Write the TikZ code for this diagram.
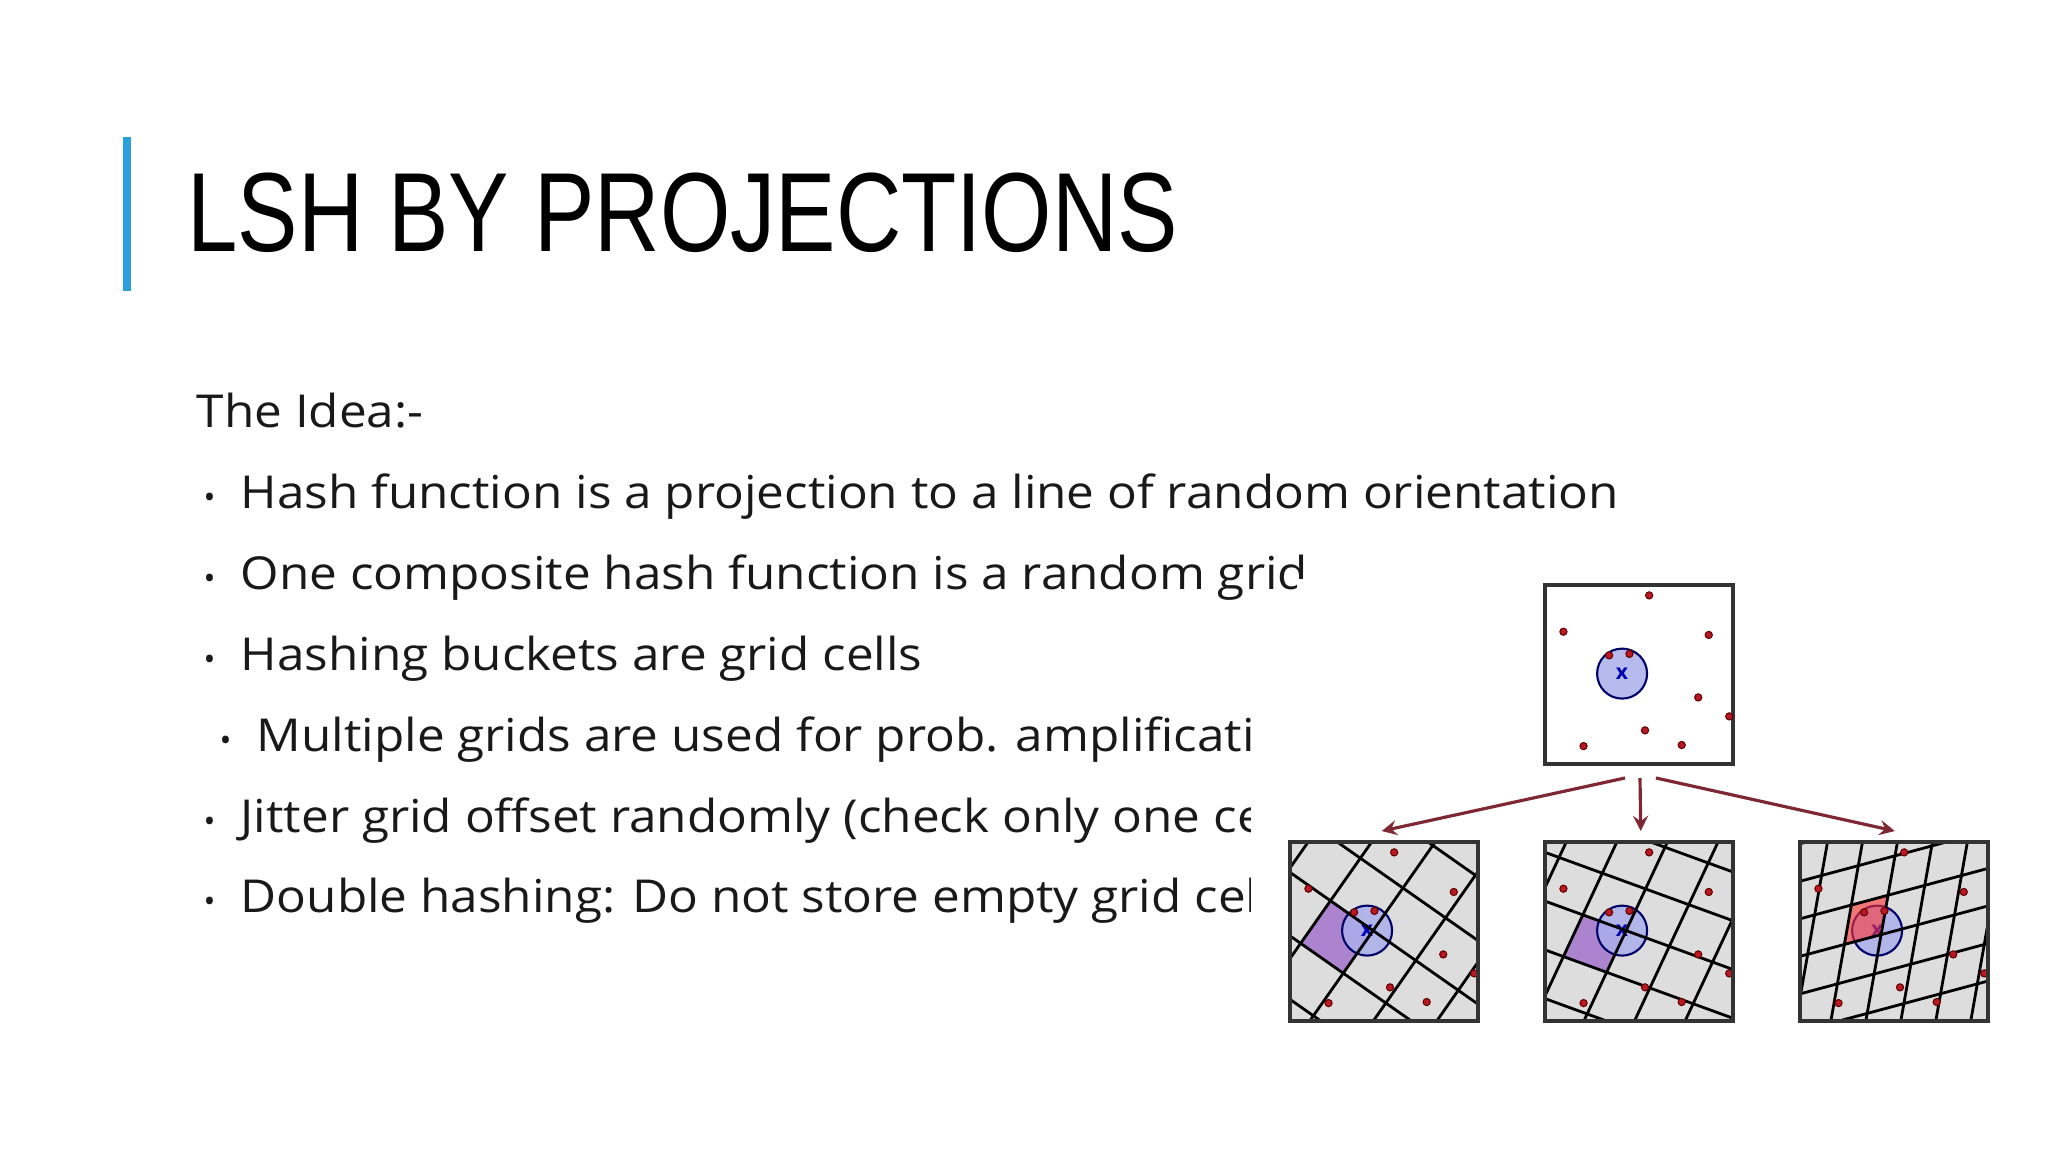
\documentclass[tikz,border=0pt]{standalone}
\usepackage{fontspec}
\setmainfont{Open Sans}
\newfontfamily\titlefont{Liberation Sans}
\usetikzlibrary{calc}
\definecolor{accent}{RGB}{41,160,218}
\definecolor{dotred}{RGB}{185,25,35}
\definecolor{arrred}{RGB}{125,40,50}
\definecolor{circfill}{RGB}{170,175,235}
\definecolor{boxgray}{RGB}{221,221,221}
\definecolor{bodytext}{RGB}{25,25,25}
\tikzset{
  body/.style={anchor=base west, inner sep=0pt, xscale=1.09, font=\fontsize{12.9}{14}\selectfont, text=bodytext},
  bul/.style={anchor=base west, inner sep=0pt, font=\fontsize{9}{10}\selectfont, text=bodytext},
  panel/.style={draw=black!80, line width=0.9pt},
  gridline/.style={line width=0.8pt, black},
  arr/.style={draw=arrred, line width=0.9pt, -stealth},
}
\newcommand\lshpanel[1]{%
  \foreach \fx/\fy in {0.554/0.058,0.098/0.261,0.871/0.279,0.341/0.393,0.449/0.385,0.815/0.628,0.980/0.734,0.532/0.812,0.205/0.900,0.727/0.894}{
    \fill[dotred, draw=black!60!red, line width=0.3pt] ($(#1)+(\fx*188,\fy*179)$) circle (3.6);
  }
}
\newcommand\lshcircle[1]{%
  \fill[circfill, fill opacity=0.85, draw=black!60!blue, line width=0.6pt] ($(#1)+(0.410*188,0.495*179)$) circle (25);
  \node[text=blue!70!black, inner sep=0pt, font=\bfseries\fontsize{6}{6}\selectfont] at ($(#1)+(0.410*188,0.495*179)$) {x};
}
\newcommand\lshgrid[3]{%
  \foreach \i in {-4,...,4}{
    \draw[gridline] ($(#1)+\i*(#3)-3.3*(#2)$) -- ($(#1)+\i*(#3)+3.3*(#2)$);
    \draw[gridline] ($(#1)+\i*(#2)-3.3*(#3)$) -- ($(#1)+\i*(#2)+3.3*(#3)$);
  }
}
\begin{document}
\begin{tikzpicture}[x=0.01cm,y=-0.01cm]
\useasboundingbox (0,0) rectangle (2048,1152);
\fill[white] (0,0) rectangle (2048,1152);
\draw[accent, line width=2.2pt] (127,137) -- (127,291);
\node[anchor=base west, inner sep=0pt, xscale=0.804, font=\titlefont\fontsize{32}{36}\selectfont] (title) at (187,252) {LSH BY PROJECTIONS};
\node[body] (idea) at (196,428) {The Idea:-};
\foreach \n/\x/\y/\t in {
  b1/209/509/{Hash function is a projection to a line of random orientation},
  b2/209/590/{One composite hash function is a random grid},
  b3/209/670/{Hashing buckets are grid cells},
  b4/225/751/{Multiple grids are used for prob. amplification},
  b5/209/832/{Jitter grid offset randomly (check only one cell)},
  b6/209/912/{Double hashing: Do not store empty grid cells}}{
  \node[bul] (\n b) at (\x-6,\y) {\textbullet};
  \node[body] (\n) at (\x+31,\y) {\t};
}
\fill[white] (1297,579) rectangle (2048,1152);
\fill[white] (1251,712) rectangle (1300,1152);
\coordinate (T) at (1545,585);
\coordinate (L) at (1290,842);
\coordinate (M) at (1545,842);
\coordinate (R) at (1800,842);
\draw[panel, fill=white] (T) rectangle ++(188,179);
\lshcircle{T}
\lshpanel{T}
\node[inner sep=0pt, minimum width=1.88cm, minimum height=1.79cm, anchor=north west] (topbox) at (T) {};
\foreach \P in {L,M,R}{
  \fill[boxgray] (\P) rectangle ++(188,179);
}
\begin{scope}
  \clip (L) rectangle ++(188,179);
  \coordinate (Lc) at ($(L)+(0.410*188+6,0.495*179)$);
  \coordinate (Ld1) at (0.819*52,0.574*52);
  \coordinate (Ld2) at (0.574*52,-0.819*52);
  \fill[violet!70!blue!60, fill opacity=0.75] (Lc) -- ($(Lc)-(Ld1)$) -- ($(Lc)-(Ld1)-(Ld2)$) -- ($(Lc)-(Ld2)$) -- cycle;
  \lshcircle{L}
  \lshgrid{Lc}{Ld1}{Ld2}
  \lshpanel{L}
\end{scope}
\begin{scope}
  \clip (M) rectangle ++(188,179);
  \coordinate (Mc) at ($(M)+(0.410*188+4,0.495*179)$);
  \coordinate (Md1) at (0.423*46,-0.906*46);
  \coordinate (Md2) at (0.940*46,0.342*46);
  \fill[violet!70!blue!60, fill opacity=0.75] (Mc) -- ($(Mc)-(Md1)$) -- ($(Mc)-(Md1)-(Md2)$) -- ($(Mc)-(Md2)$) -- cycle;
  \lshcircle{M}
  \lshgrid{Mc}{Md1}{Md2}
  \lshpanel{M}
\end{scope}
\begin{scope}
  \clip (R) rectangle ++(188,179);
  \coordinate (Rc) at ($(R)+(0.410*188+4,0.495*179+4)$);
  \coordinate (Rd1) at (0.174*40,-0.985*40);
  \coordinate (Rd2) at (0.966*38,-0.259*38);
  \lshcircle{R}
  \fill[red!80, fill opacity=0.6] (Rc) -- ($(Rc)+(Rd1)$) -- ($(Rc)+(Rd1)-(Rd2)$) -- ($(Rc)-(Rd2)$) -- cycle;
  \lshgrid{Rc}{Rd1}{Rd2}
  \lshpanel{R}
\end{scope}
\foreach \P/\n in {L/lbox,M/mbox,R/rbox}{
  \draw[panel] (\P) rectangle ++(188,179);
  \node[inner sep=0pt, minimum width=1.88cm, minimum height=1.79cm, anchor=north west] (\n) at (\P) {};
}
\coordinate (a1) at (1625,778);
\coordinate (a2) at (1640,778);
\coordinate (a3) at (1656,778);
\draw[arr] (a1) -- ($(lbox.north)+(-3,-11)$);
\draw[arr] (a2) -- ($(mbox.north)+(1,-11)$);
\draw[arr] (a3) -- ($(rbox.north)+(0,-11)$);
\end{tikzpicture}
\end{document}
